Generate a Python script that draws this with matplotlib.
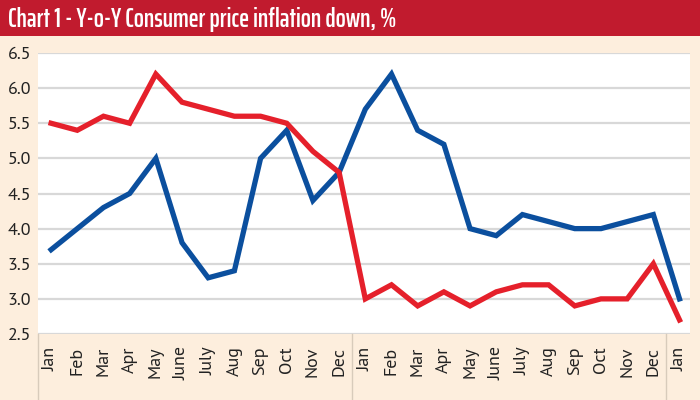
import numpy as np
import matplotlib.pyplot as plt
from matplotlib.patches import Rectangle

months = ['Jan', 'Feb', 'Mar', 'Apr', 'May', 'June', 'July', 'Aug', 'Sep', 'Oct', 'Nov', 'Dec',
          'Jan', 'Feb', 'Mar', 'Apr', 'May', 'June', 'July', 'Aug', 'Sep', 'Oct', 'Nov', 'Dec',
          'Jan']
red_series = [5.5, 5.4, 5.6, 5.5, 6.2, 5.8, 5.7, 5.6, 5.6, 5.5, 5.1, 4.8,
              3.0, 3.2, 2.9, 3.1, 2.9, 3.1, 3.2, 3.2, 2.9, 3.0, 3.0, 3.5, 2.7]
blue_series = [3.7, 4.0, 4.3, 4.5, 5.0, 3.8, 3.3, 3.4, 5.0, 5.4, 4.4, 4.8,
               5.7, 6.2, 5.4, 5.2, 4.0, 3.9, 4.2, 4.1, 4.0, 4.0, 4.1, 4.2, 3.0]
yticks = [2.5, 3.0, 3.5, 4.0, 4.5, 5.0, 5.5, 6.0, 6.5]

cream = '#fdeedd'
label_font = ['PT Sans', 'Open Sans', 'DejaVu Sans']
fig = plt.figure(figsize=(7, 4), dpi=100, facecolor=cream)

# title bar
fig.patches.append(Rectangle((0, 1 - 36 / 400), 1, 36 / 400, transform=fig.transFigure,
                             facecolor='#c11b2e', edgecolor='none', zorder=0))
fig.text(0.012, 1 - 19 / 400, 'Chart 1 - Y-o-Y Consumer price inflation down, %',
         color='white', fontsize=19, fontweight='semibold',
         family=['Saira ExtraCondensed', 'Barlow Condensed', 'DejaVu Sans'],
         va='center', ha='left')

ax = fig.add_axes([38 / 700, 1 - 334 / 400, (690 - 38) / 700, (334 - 53) / 400])
ax.set_facecolor('white')
x = np.arange(len(months))

ax.plot(x, blue_series, color='#0b4f9e', lw=3.8, solid_joinstyle='miter', zorder=3)
ax.plot(x, red_series, color='#e5202b', lw=3.8, solid_joinstyle='miter', zorder=4)

ax.set_xlim(-0.5, 24.4)
ax.set_ylim(2.5, 6.5)
ax.set_yticks(yticks)
ax.set_yticklabels([f'{v:.1f}' for v in yticks], family=label_font, fontsize=13, color='#222222')
ax.set_xticks(x)
ax.set_xticklabels(months, rotation=90, family=label_font, fontsize=13, color='#222222')
ax.tick_params(axis='x', length=0, pad=9)
ax.tick_params(axis='y', length=0, pad=5)
ax.grid(axis='y', color='#d8d8d8', lw=1.6)
ax.set_axisbelow(True)
for s in ax.spines.values():
    s.set_visible(False)

# separators between the years
trans = ax.get_xaxis_transform()
for sx in [-0.5, 11.5, 23.5]:
    ax.plot([sx, sx], [0, -0.3], transform=trans, color='#d8cbbb', lw=1, clip_on=False)

fig.savefig('out.png', dpi=100, facecolor=cream)
